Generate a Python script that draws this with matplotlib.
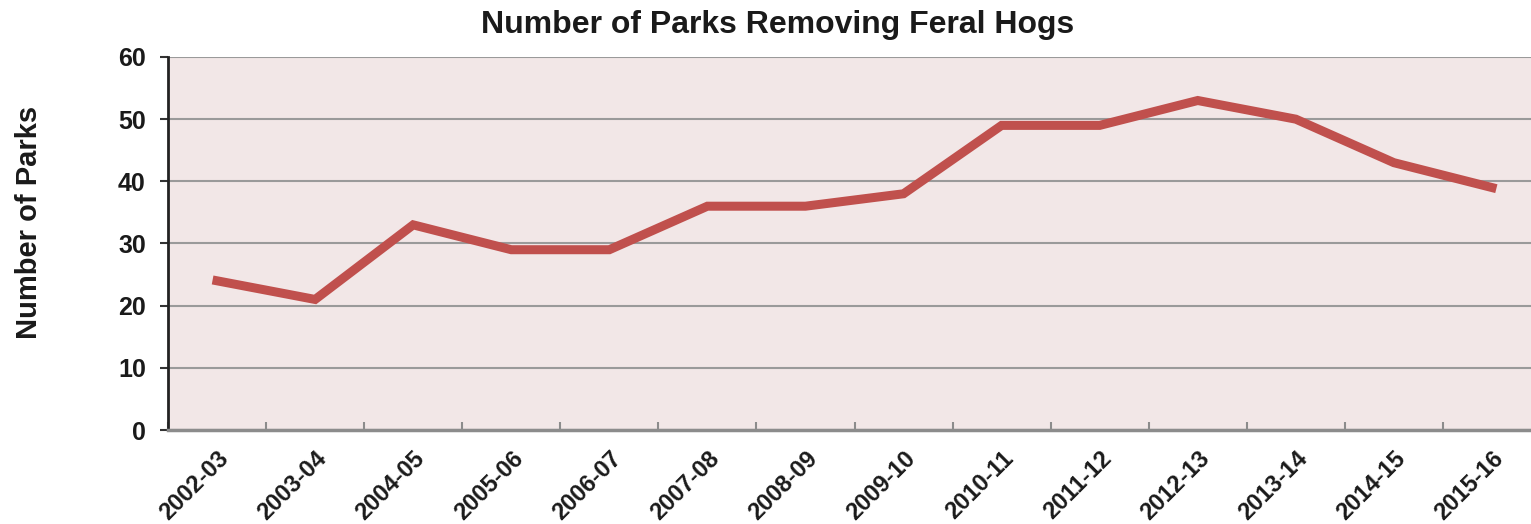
import matplotlib.pyplot as plt
import numpy as np

plt.rcParams["font.family"] = ["Liberation Sans", "DejaVu Sans"]

seasons = ["2002-03", "2003-04", "2004-05", "2005-06", "2006-07", "2007-08", "2008-09",
           "2009-10", "2010-11", "2011-12", "2012-13", "2013-14", "2014-15", "2015-16"]
parks = [24, 21, 33, 29, 29, 36, 36, 38, 49, 49, 53, 50, 43, 39]
y_ticks = [0, 10, 20, 30, 40, 50, 60]

W, H = 1531, 524
fig = plt.figure(figsize=(W / 100, H / 100), dpi=100)
# plot area runs a little past the right edge of the image
ax = fig.add_axes([168 / W, 1 - 430 / H, (1541 - 168) / W, (430 - 57) / H])
ax.set_facecolor("#F2E7E7")

x = np.arange(len(seasons))
ax.plot(x, parks, color="#C0504D", linewidth=6.5, solid_joinstyle="miter", zorder=3)

ax.set_xlim(-0.5, len(seasons) - 0.5)
ax.set_ylim(0, 60)
ax.set_yticks(y_ticks)
ax.set_yticklabels([str(v) for v in y_ticks], fontsize=18, fontweight="bold", color="#1A1A1A")
ax.yaxis.grid(True, color="#9A9A9A", linewidth=1.5)
ax.set_axisbelow(True)

# category labels at centres, tick marks at boundaries
ax.set_xticks(x)
ax.set_xticklabels(seasons, rotation=45, ha="right", rotation_mode="anchor",
                   fontsize=17, fontweight="bold", color="#1A1A1A")
ax.tick_params(axis="x", length=0, pad=12)
ax.set_xticks(np.arange(-0.5, len(seasons) - 0.5), minor=True)
ax.tick_params(axis="x", which="minor", direction="in", length=6, color="#8C8C8C", width=1.5)
ax.tick_params(axis="y", direction="out", length=6, width=1.5, color="#333333", pad=10)

for side in ["top", "right"]:
    ax.spines[side].set_visible(False)
ax.spines["left"].set_color("#222222")
ax.spines["left"].set_linewidth(2)
ax.spines["bottom"].set_color("#8C8C8C")
ax.spines["bottom"].set_linewidth(2.5)

fig.text(29 / W, 1 - 222 / H, "Number of Parks", rotation=90, ha="center", va="center",
         fontsize=21, fontweight="bold", color="#1A1A1A")
fig.text(778 / W, 1 - 25 / H, "Number of Parks Removing Feral Hogs",
         ha="center", va="center", fontsize=23, fontweight="bold", color="#1A1A1A")

fig.savefig("out.png", dpi=100)
